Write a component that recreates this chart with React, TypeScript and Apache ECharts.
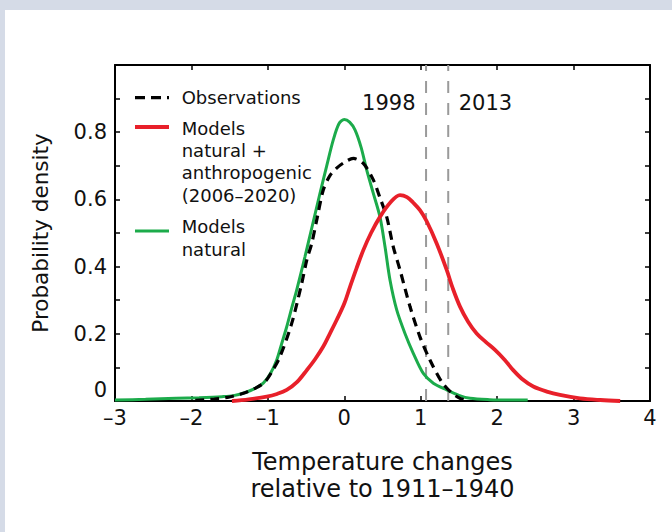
import React, { useEffect, useRef } from 'react';
import * as echarts from 'echarts';

// Models natural (green)
const naturalX = [-3, -2.6, -2.2, -1.9, -1.6, -1.45, -1.3, -1.18, -1.06, -0.97, -0.884, -0.82, -0.753, -0.69, -0.623, -0.514, -0.42, -0.318, -0.23, -0.144, -0.07, 0, 0.07, 0.14, 0.22, 0.293, 0.38, 0.467, 0.533, 0.598, 0.686, 0.794, 0.903, 1.034, 1.165, 1.34, 1.5, 1.645, 1.9, 2.15, 2.4];
const naturalY = [0.003, 0.005, 0.008, 0.01, 0.013, 0.016, 0.025, 0.036, 0.053, 0.08, 0.122, 0.17, 0.221, 0.275, 0.33, 0.43, 0.52, 0.618, 0.7, 0.777, 0.825, 0.838, 0.83, 0.807, 0.755, 0.688, 0.618, 0.548, 0.459, 0.36, 0.271, 0.201, 0.142, 0.082, 0.053, 0.033, 0.017, 0.008, 0.004, 0.003, 0.003];

// Observations (black dashed)
const obsX = [-1.95, -1.7, -1.5, -1.32, -1.15, -1.037, -0.94, -0.841, -0.688, -0.557, -0.49, -0.426, -0.35, -0.275, -0.19, -0.1, 0, 0.118, 0.249, 0.38, 0.467, 0.555, 0.641, 0.729, 0.86, 0.99, 1.121, 1.274, 1.4, 1.514, 1.6];
const obsY = [0.002, 0.006, 0.012, 0.023, 0.04, 0.057, 0.09, 0.132, 0.231, 0.35, 0.42, 0.469, 0.55, 0.628, 0.67, 0.693, 0.71, 0.722, 0.707, 0.658, 0.605, 0.548, 0.459, 0.39, 0.281, 0.191, 0.122, 0.057, 0.025, 0.008, 0.002];

// Models natural + anthropogenic (red)
const anthroX = [-1.47, -1.25, -1.015, -0.88, -0.753, -0.62, -0.49, -0.38, -0.275, -0.19, -0.1, 0, 0.075, 0.16, 0.249, 0.35, 0.467, 0.6, 0.729, 0.82, 0.903, 0.99, 1.078, 1.209, 1.34, 1.42, 1.514, 1.62, 1.732, 1.85, 1.972, 2.1, 2.21, 2.34, 2.473, 2.65, 2.822, 3.084, 3.35, 3.61];
const anthroY = [0.0, 0.005, 0.013, 0.021, 0.033, 0.056, 0.092, 0.125, 0.162, 0.2, 0.241, 0.29, 0.34, 0.395, 0.449, 0.5, 0.548, 0.59, 0.613, 0.607, 0.59, 0.568, 0.535, 0.469, 0.39, 0.335, 0.281, 0.236, 0.201, 0.176, 0.152, 0.122, 0.092, 0.063, 0.043, 0.028, 0.018, 0.008, 0.003, 0.0];

// Reference years (vertical dashed lines)
const yearNames = ['1998', '2013'];
const yearValues = [1.07, 1.36];
const yearLabelY = 0.888;

const legendObs = 'Observations';
const legendAnthro = 'Models\nnatural +\nanthropogenic\n(2006\u20132020)';
const legendNatural = 'Models\nnatural';
const xTitle = 'Temperature changes\nrelative to 1911\u20131940';
const yTitle = 'Probability density';

const FONT = '"DejaVu Sans", "Liberation Sans", sans-serif';
const RED = '#e8202a';
const GREEN = '#1cab4b';
const TEXT = '#111111';

const pairs = (xs: number[], ys: number[]) => xs.map((x, i) => [x, ys[i]]);

export default function App() {
  const ref = useRef<HTMLDivElement>(null);
  useEffect(() => {
    if (!ref.current) return;
    const chart = echarts.init(ref.current, null, { renderer: 'svg' });
    const axisLineStyle = { color: '#000', width: 2 };
    const tickStyle = { color: '#000', width: 1.5 };
    const option: any = {
      animation: false,
      backgroundColor: '#ffffff',
      grid: { left: 110, top: 55, right: 22, bottom: 131, containLabel: false },
      xAxis: [
        {
          type: 'value', min: -3, max: 4, interval: 1, position: 'bottom',
          axisLine: { show: true, onZero: false, lineStyle: axisLineStyle },
          axisTick: { show: true, inside: true, length: 5, lineStyle: tickStyle },
          splitLine: { show: false },
          axisLabel: {
            fontSize: 21, fontFamily: FONT, color: TEXT, margin: 6,
            formatter: (v: number) => (v < 0 ? '\u2013' + Math.abs(v) : String(v)),
          },
          name: xTitle, nameLocation: 'middle', nameGap: 47,
          nameTextStyle: { fontSize: 24, fontFamily: FONT, color: TEXT, lineHeight: 27 },
        },
        {
          type: 'value', min: -3, max: 4, interval: 1, position: 'top',
          axisLine: { show: true, onZero: false, lineStyle: axisLineStyle },
          axisTick: { show: true, inside: true, length: 5, lineStyle: tickStyle },
          axisLabel: { show: false }, splitLine: { show: false },
        },
      ],
      yAxis: [
        {
          type: 'value', min: 0, max: 1, interval: 0.1, position: 'left',
          axisLine: { show: true, onZero: false, lineStyle: axisLineStyle },
          axisTick: { show: true, inside: true, length: 5, lineStyle: tickStyle },
          splitLine: { show: false },
          axisLabel: {
            fontSize: 21, fontFamily: FONT, color: TEXT, margin: 8,
            formatter: (v: number) => {
              const k = Math.round(v * 10);
              if (k === 0) return '{z|0}';
              if (k % 2 === 0 && k < 10) return (k / 10).toFixed(1);
              return '';
            },
            rich: { z: { fontSize: 21, fontFamily: FONT, color: TEXT, padding: [0, 0, 22, 0] } },
          },
          name: yTitle, nameLocation: 'middle', nameGap: 64, nameRotate: 90,
          nameTextStyle: { fontSize: 21.5, fontFamily: FONT, color: TEXT },
        },
        {
          type: 'value', min: 0, max: 1, interval: 0.1, position: 'right',
          axisLine: { show: true, onZero: false, lineStyle: axisLineStyle },
          axisTick: { show: true, inside: true, length: 5, lineStyle: tickStyle },
          axisLabel: { show: false }, splitLine: { show: false },
        },
      ],
      series: [
        ...yearValues.map((v, i) => ({
          name: yearNames[i] + ' line', type: 'line', xAxisIndex: 0, yAxisIndex: 0,
          data: [[v, 0], [v, 1]], showSymbol: false, symbol: 'none', silent: true,
          lineStyle: { color: '#9a9a9a', width: 2, type: [12, 10] }, z: 1,
        })),
        {
          name: 'year labels', type: 'scatter', xAxisIndex: 0, yAxisIndex: 0,
          data: yearValues.map((v, i) => ({
            value: [v, yearLabelY],
            label: {
              show: true, formatter: yearNames[i], position: i === 0 ? 'left' : 'right', distance: 10,
              fontSize: 21, fontFamily: FONT, color: TEXT, opacity: 1,
            },
          })),
          symbolSize: 1, itemStyle: { color: 'rgba(255,255,255,0)' }, silent: true,
          label: { show: true, fontSize: 21, fontFamily: FONT, color: TEXT },
          emphasis: { disabled: true },
        },
        {
          name: 'Models natural', type: 'line', data: pairs(naturalX, naturalY),
          smooth: 0.3, showSymbol: false, symbol: 'none',
          lineStyle: { color: GREEN, width: 3 }, z: 3,
        },
        {
          name: 'Observations', type: 'line', data: pairs(obsX, obsY),
          smooth: 0.3, showSymbol: false, symbol: 'none',
          lineStyle: { color: '#000', width: 3.2, type: [9, 6] }, z: 4,
        },
        {
          name: 'Models natural + anthropogenic', type: 'line', data: pairs(anthroX, anthroY),
          smooth: 0.35, showSymbol: false, symbol: 'none',
          lineStyle: { color: RED, width: 3.8 }, z: 5,
        },
      ],
      graphic: [
        { type: 'line', shape: { x1: 130, y1: 87.7, x2: 164, y2: 87.7 }, style: { stroke: '#000', lineWidth: 3.2, lineDash: [10, 6] } },
        { type: 'text', x: 176.7, y: 87.7, style: { text: legendObs, fontSize: 18, fontFamily: FONT, fill: TEXT, align: 'left', verticalAlign: 'middle', textAlign: 'left', textVerticalAlign: 'middle' } },
        { type: 'line', shape: { x1: 130, y1: 117, x2: 164, y2: 117 }, style: { stroke: RED, lineWidth: 3.8 } },
        { type: 'text', x: 176.7, y: 107, style: { text: legendAnthro, fontSize: 18, lineHeight: 22.3, fontFamily: FONT, fill: TEXT, align: 'left', verticalAlign: 'top', textAlign: 'left', textVerticalAlign: 'top' } },
        { type: 'line', shape: { x1: 130, y1: 221, x2: 164, y2: 221 }, style: { stroke: GREEN, lineWidth: 3 } },
        { type: 'text', x: 176.7, y: 205.7, style: { text: legendNatural, fontSize: 18, lineHeight: 22.3, fontFamily: FONT, fill: TEXT, align: 'left', verticalAlign: 'top', textAlign: 'left', textVerticalAlign: 'top' } },
      ],
    };
    chart.setOption(option);
    return () => chart.dispose();
  }, []);
  return (
    <div style={{ position: 'absolute', left: 0, top: 0, width: 672, height: 532, background: '#d5dbe7', overflow: 'hidden' }}>
      <div ref={ref} style={{ position: 'absolute', left: 5, top: 10, width: 667, height: 522, background: '#ffffff' }} />
    </div>
  );
}
